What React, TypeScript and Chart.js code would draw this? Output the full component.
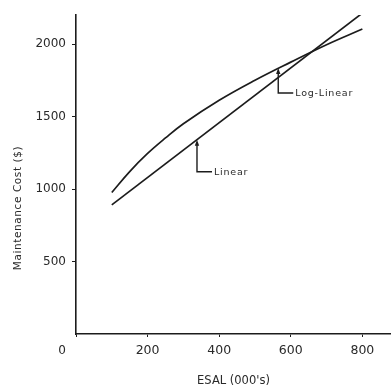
import React, { useEffect, useRef } from "react";
import { Chart, registerables } from "chart.js";

Chart.register(...registerables);

// ---- data ----
const LOG_X = [100, 150, 200, 250, 300, 400, 500, 600, 700, 800];
const LOG_Y = [976, 1120, 1245, 1352, 1450, 1612, 1750, 1875, 1995, 2103];
const LIN_X = [100, 800];
const LIN_Y = [890, 2213];
const X_TICKS = [0, 200, 400, 600, 800];
const Y_TICKS = [500, 1000, 1500, 2000];
const X_TITLE = "ESAL (000's)";
const Y_TITLE = "Maintenance Cost ($)";
// annotation anchors (data coordinates of arrow tips)
const ANNOT_LABELS = ["Log-Linear", "Linear"];
const ANNOT_X = [565, 338];
const ANNOT_Y = [1835, 1340];

const INK = "#1c1c1c";
const TEXT = "#2a2a2a";
const FONT = "DejaVu Sans";

const annotPlugin = {
  id: "annot",
  afterDatasetsDraw(chart: any) {
    const { ctx, scales } = chart;
    const xs = scales.x;
    const ys = scales.y;
    ctx.save();
    ctx.strokeStyle = INK;
    ctx.fillStyle = INK;
    ctx.lineWidth = 1.4;
    const drops = [25, 32];
    ANNOT_LABELS.forEach((label, i) => {
      const px = xs.getPixelForValue(ANNOT_X[i]);
      const py = ys.getPixelForValue(ANNOT_Y[i]);
      const by = py + drops[i];
      ctx.beginPath();
      ctx.moveTo(px, py + 3);
      ctx.lineTo(px, by);
      ctx.lineTo(px + 15, by);
      ctx.stroke();
      ctx.beginPath();
      ctx.moveTo(px, py);
      ctx.lineTo(px - 2.2, py + 6);
      ctx.lineTo(px + 2.2, py + 6);
      ctx.closePath();
      ctx.fill();
      ctx.fillStyle = TEXT;
      ctx.font = `9.5px "${FONT}"`;
      try { (ctx as any).letterSpacing = "0.8px"; } catch (e) {}
      ctx.textAlign = "left";
      ctx.textBaseline = "middle";
      ctx.fillText(label, px + 17, by + 0.5);
      try { (ctx as any).letterSpacing = "0px"; } catch (e) {}
      ctx.fillStyle = INK;
    });

    // origin "0" label (offset to the lower-left corner)
    ctx.fillStyle = TEXT;
    ctx.font = `12px "${FONT}"`;
    ctx.textAlign = "center";
    ctx.textBaseline = "middle";
    ctx.fillText("0", xs.getPixelForValue(0) - 14, ys.getPixelForValue(0) + 17);

    // y-axis title
    ctx.save();
    ctx.translate(18, 208);
    ctx.rotate(-Math.PI / 2);
    ctx.font = `10.5px "${FONT}"`;
    try { (ctx as any).letterSpacing = "0.6px"; } catch (e) {}
    ctx.textAlign = "center";
    ctx.textBaseline = "middle";
    ctx.fillText(Y_TITLE, 0, 0);
    ctx.restore();
    ctx.restore();
  },
};

export default function App() {
  const ref = useRef<HTMLCanvasElement>(null);
  useEffect(() => {
    if (!ref.current) return;
    const chart = new Chart(ref.current, {
      type: "scatter",
      data: {
        datasets: [
          {
            label: "Log-Linear",
            data: LOG_X.map((x, i) => ({ x, y: LOG_Y[i] })),
            showLine: true,
            borderColor: INK,
            borderWidth: 1.7,
            pointRadius: 0,
            tension: 0.4,
          },
          {
            label: "Linear",
            data: LIN_X.map((x, i) => ({ x, y: LIN_Y[i] })),
            showLine: true,
            borderColor: INK,
            borderWidth: 1.7,
            pointRadius: 0,
          },
        ],
      },
      options: {
        animation: false,
        responsive: true,
        maintainAspectRatio: false,
        layout: { padding: { top: 15, right: 0, left: 0, bottom: 0 } },
        plugins: { legend: { display: false }, tooltip: { enabled: false } },
        scales: {
          x: {
            type: "linear",
            min: 0,
            max: 880,
            afterBuildTicks: (s: any) => {
              s.ticks = X_TICKS.map((v) => ({ value: v }));
            },
            afterFit: (s: any) => {
              s.height = 53;
            },
            ticks: {
              color: TEXT,
              font: { family: FONT, size: 12.5 },
              padding: 6,
              maxRotation: 0,
              callback: (v: any) => (v === 0 ? "" : String(v)),
            },
            grid: {
              display: true,
              drawOnChartArea: false,
              drawTicks: true,
              tickLength: 3,
              color: INK,
            },
            border: { display: true, color: INK, width: 1.6 },
            title: {
              display: true,
              text: X_TITLE,
              color: TEXT,
              font: { family: FONT, size: 11.5, lineHeight: 1 },
              padding: { top: 0, bottom: 0 },
            },
          },
          y: {
            type: "linear",
            min: 0,
            max: 2200,
            afterBuildTicks: (s: any) => {
              s.ticks = Y_TICKS.map((v) => ({ value: v }));
            },
            afterFit: (s: any) => {
              s.width = 76;
            },
            ticks: {
              color: TEXT,
              font: { family: FONT, size: 12 },
              padding: 6,
              callback: (v: any) => String(v),
            },
            grid: {
              display: true,
              drawOnChartArea: false,
              drawTicks: true,
              tickLength: 4,
              color: INK,
            },
            border: { display: true, color: INK, width: 1.6 },
          },
        },
      },
      plugins: [annotPlugin],
    } as any);
    return () => chart.destroy();
  }, []);
  return (
    <div style={{ position: "fixed", left: 0, top: 0, width: 391, height: 387, background: "#fff" }}>
      <canvas ref={ref} />
    </div>
  );
}
